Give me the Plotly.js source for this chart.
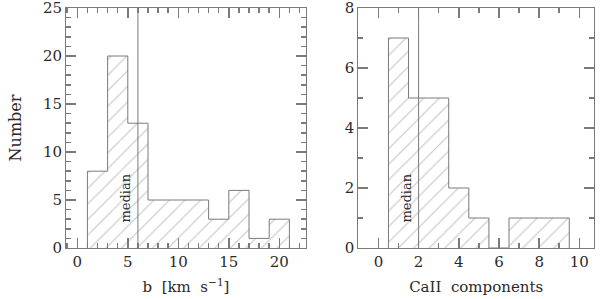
<!DOCTYPE html>
<html>
<head>
<meta charset="utf-8">
<script src="https://cdn.plot.ly/plotly-3.0.1.min.js"></script>
<style>html,body{margin:0;padding:0;background:#fff}#chart{width:600px;height:299px}</style>
</head>
<body>
<div id="chart"></div>
<script>
// Left panel: b [km s^-1] histogram (bin width 2, from 1 to 21)
const bEdges = [1, 3, 5, 7, 9, 11, 13, 15, 17, 19, 21];
const bCounts = [8, 20, 13, 5, 5, 5, 3, 6, 1, 3];
const bMedian = 6;

// Right panel: CaII components histogram (bin width 1, centred on integers)
const caEdges = [0.5, 1.5, 2.5, 3.5, 4.5, 5.5, 6.5, 7.5, 8.5, 9.5];
const caCounts = [7, 5, 5, 2, 1, 0, 1, 1, 1];
const caMedian = 2;

const medianLabel = "median";
const xTitles = ["b  [km  s<sup>\u22121</sup>]", "CaII  components"];
const yTitle = "Number";

const lineCol = "#7a7a7a";
const hatchCol = "#8c8c8c";
const textCol = "#2a2a2a";
const FONT = "DejaVu Serif";

function centers(edges){ return edges.slice(0,-1).map((e,i)=>(e+edges[i+1])/2); }
function widths(edges){ return edges.slice(0,-1).map((e,i)=>edges[i+1]-e); }
function stepOutline(edges, counts){
  const xs=[edges[0]], ys=[0];
  counts.forEach((c,i)=>{ xs.push(edges[i], edges[i+1]); ys.push(c, c); });
  xs.push(edges[edges.length-1]); ys.push(0);
  return {xs, ys};
}

function histTraces(edges, counts, xa, ya){
  const o = stepOutline(edges, counts);
  return [
    {type:"bar", x:centers(edges), y:counts, width:widths(edges), xaxis:xa, yaxis:ya,
     marker:{color:"#ffffff", line:{width:0},
             pattern:{shape:"/", fgcolor:hatchCol, bgcolor:"#ffffff", size:11, solidity:0.1, fillmode:"overlay"}},
     hoverinfo:"skip", showlegend:false},
    {type:"scatter", mode:"lines", x:o.xs, y:o.ys, xaxis:xa, yaxis:ya,
     line:{color:lineCol, width:1}, hoverinfo:"skip", showlegend:false}
  ];
}

const data = [].concat(
  histTraces(bEdges, bCounts, "x", "y"),
  histTraces(caEdges, caCounts, "x2", "y2")
);

// Major axes (with labels)
function major(extra){
  return Object.assign({
    showgrid:false, zeroline:false, showline:true, linecolor:lineCol,
    mirror:"allticks", ticks:"inside", tickcolor:lineCol, tickwidth:1.5, ticklen:10,
    tickfont:{family:FONT, size:15, color:textCol}, tickmode:"linear", tick0:0,
    ticklabeloverflow:"allow"
  }, extra);
}
// Minor-tick overlay axes (no labels)
function minorAx(extra){
  return Object.assign({
    showgrid:false, zeroline:false, showline:false,
    mirror:"allticks", ticks:"inside", tickcolor:lineCol, tickwidth:1.5, ticklen:5,
    showticklabels:false, tickmode:"linear", tick0:0, dtick:1
  }, extra);
}

const bRange = [-1.12, 22.64], bYRange = [0, 25];
const caRange = [-1, 10.73], caYRange = [0, 8];
const dom1 = [0, 0.4545], dom2 = [0.5536, 1];

const layout = {
  width:600, height:299,
  margin:{l:66, r:6, t:8, b:51},
  paper_bgcolor:"#fff", plot_bgcolor:"#fff",
  showlegend:false, bargap:0,
  xaxis: major({domain:dom1, anchor:"y", range:bRange, dtick:5,
    title:{text:xTitles[0], font:{family:FONT, size:15, color:textCol}, standoff:11}}),
  yaxis: major({anchor:"x", range:bYRange, dtick:5,
    title:{text:yTitle, font:{family:FONT, size:16, color:textCol}, standoff:17}}),
  xaxis2: major({domain:dom2, anchor:"y2", range:caRange, dtick:2,
    title:{text:xTitles[1], font:{family:FONT, size:15, color:textCol}, standoff:11}}),
  yaxis2: major({anchor:"x2", range:caYRange, dtick:2}),
  xaxis3: minorAx({overlaying:"x", anchor:"y", side:"bottom", domain:dom1, range:bRange}),
  yaxis3: minorAx({overlaying:"y", anchor:"x", side:"left", range:bYRange}),
  xaxis4: minorAx({overlaying:"x2", anchor:"y2", side:"bottom", domain:dom2, range:caRange}),
  yaxis4: minorAx({overlaying:"y2", anchor:"x2", side:"left", range:caYRange}),
  shapes:[
    {type:"line", xref:"x", yref:"y domain", x0:bMedian, x1:bMedian, y0:0, y1:1, line:{color:lineCol, width:1}},
    {type:"line", xref:"x2", yref:"y2 domain", x0:caMedian, x1:caMedian, y0:0, y1:1, line:{color:lineCol, width:1}}
  ],
  annotations:[
    {xref:"x", yref:"y", x:bMedian, y:5.2, text:medianLabel, textangle:-90, showarrow:false,
     xanchor:"right", xshift:-3, font:{family:FONT, size:13, color:textCol}},
    {xref:"x2", yref:"y2", x:caMedian, y:1.65, text:medianLabel, textangle:-90, showarrow:false,
     xanchor:"right", xshift:-3, font:{family:FONT, size:13, color:textCol}}
  ]
};

// invisible traces so the minor-tick overlay axes are drawn
data.push({type:"scatter", mode:"none", x:[bRange[0]], y:[bYRange[0]], xaxis:"x3", yaxis:"y3", hoverinfo:"skip", showlegend:false});
data.push({type:"scatter", mode:"none", x:[caRange[0]], y:[caYRange[0]], xaxis:"x4", yaxis:"y4", hoverinfo:"skip", showlegend:false});

Plotly.newPlot("chart", data, layout, {staticPlot:true, displayModeBar:false});
</script>
</body>
</html>
